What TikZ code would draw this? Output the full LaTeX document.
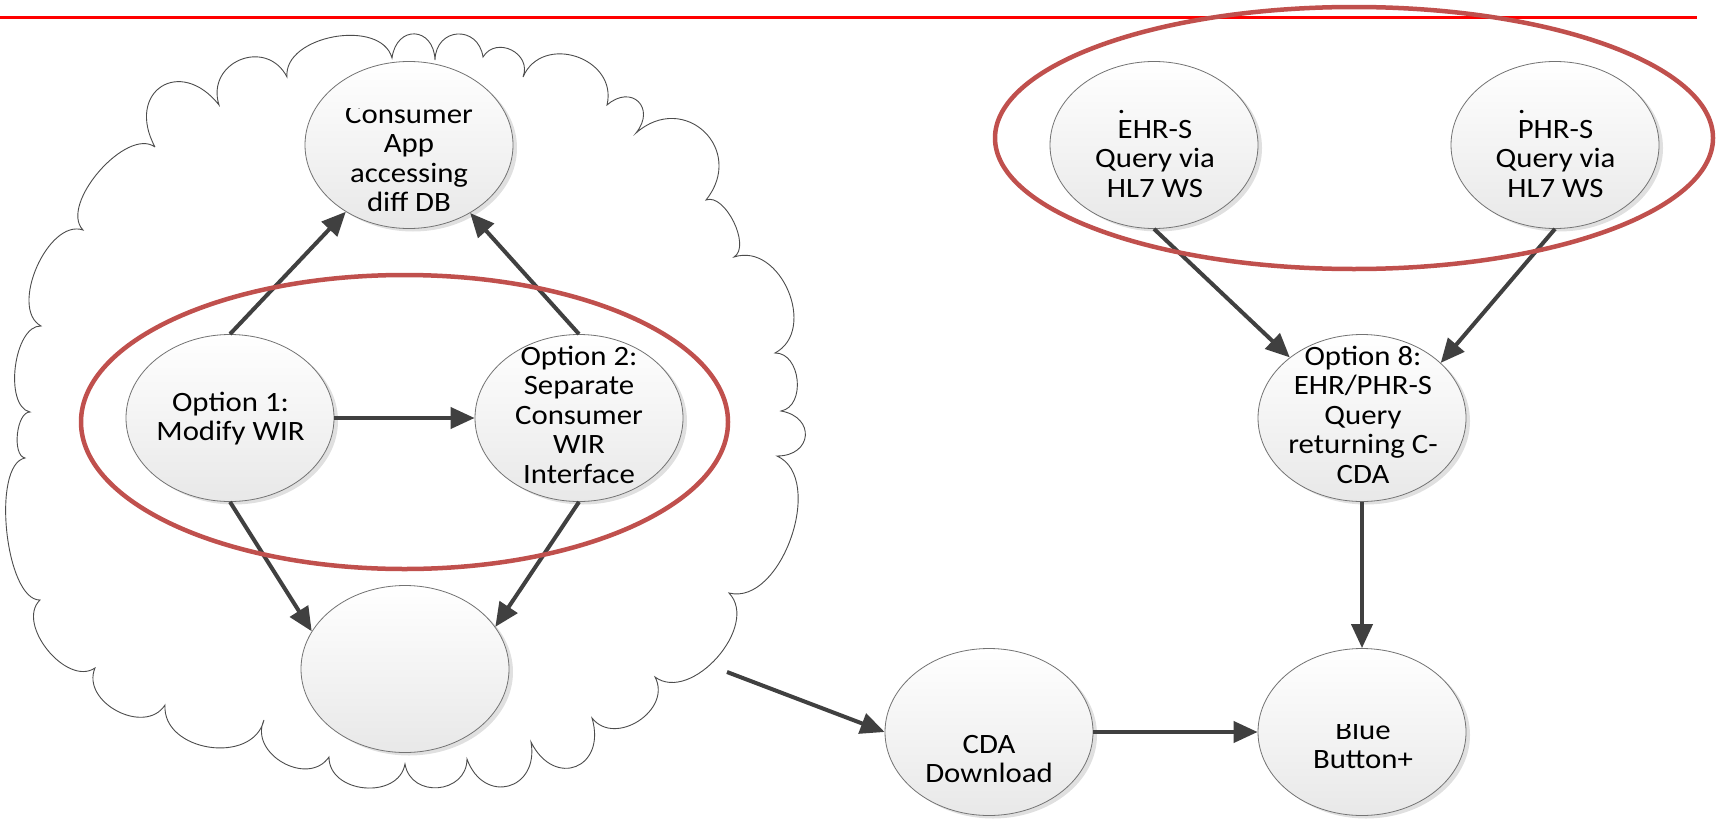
\documentclass[tikz,border=0pt]{standalone}
\usepackage{fontspec}
\setmainfont{Carlito}[FakeStretch=1.1]
\usetikzlibrary{arrows.meta,shapes.geometric,shadows}
\definecolor{ring}{HTML}{C0504D}
\definecolor{arrgray}{HTML}{404040}
\newcommand{\mlines}[1]{\begin{tabular}[t]{@{}c@{}}#1\end{tabular}}
\begin{document}
\begin{tikzpicture}[x=1pt,y=-1pt,
  font=\fontsize{28pt}{29.5pt}\selectfont,
  bub/.style={ellipse, draw=black!55, line width=0.8pt, minimum width=208pt,
    minimum height=167pt, inner sep=0pt, top color=white, bottom color=black!9,
    drop shadow={shadow xshift=4pt,shadow yshift=-3pt,opacity=0.12,fill=black}},
  txt/.style={anchor=base, inner sep=0pt, text=black},
  arr/.style={draw=arrgray, line width=4pt, -{Triangle[length=24pt,width=21pt]}},
  redring/.style={draw=ring, line width=4.5pt},
  cloudline/.style={draw=black!70, line width=0.9pt},
  bp/.style={bend left=85, looseness=#1}]
\fill[white] (0,0) rectangle (1718,819);
\useasboundingbox (0,0) rectangle (1718,819);

% top red rule
\draw[red, line width=3pt] (0,17) -- (1697,17);

% cloud
\draw[cloudline] (155,147) to[bp=2.1] (219,105) to[bp=1.57] (287,77) to[bp=1.0] (392,58)
  to[bp=2.0] (435,60) to[bp=1.75] (483,57) to[bp=1.45] (523,77) to[bp=1.4] (607,105)
  to[bp=2.05] (636,133) to[bp=1.7] (706,200) to[bp=0.82] (734,257) to[bp=1.2] (775,353)
  to[bp=1.13] (781,411) to[bp=2.0] (777,456) to[bp=0.95] (729,593) to[bp=1.03] (655,677)
  to[bp=1.27] (592,718) to[bp=2.05] (531,742) to[bp=1.9] (467,759) to[bp=1.45] (405,764)
  to[bp=1.23] (329,757) to[bp=1.27] (264,720) to[bp=1.2] (165,705) to[bp=1.2] (95,668)
  to[bp=1.0] (40,600) to[bp=0.62] (25,458) to[bp=0.75] (30,412) to[bp=0.8] (41,326)
  to[bp=0.9] (83,230) to[bp=0.82] (155,147);
\coordinate (cstart) at (727,672);

% bubbles
\node[bub] (cons) at (409,145) {};
\node[bub] (o1) at (230,418) {};
\node[bub] (o2) at (579,418) {};
\node[bub] (bot) at (405,669) {};
\node[bub] (ehr) at (1154,145) {};
\node[bub] (phr) at (1555,145) {};
\node[bub] (o8) at (1362,418) {};
\node[bub] (cda) at (989,732) {};
\node[bub] (blue) at (1362,732) {};

% texts
\begin{scope}
  \clip (290,108) rectangle (530,240);
  \node[txt] (tcons) at (409,123) {\mlines{Consumer\\App\\accessing\\diff DB}};
\end{scope}
\node[txt] (to1) at (230.5,411) {\mlines{Option 1:\\Modify WIR}};
\node[txt] (to2) at (579,365) {\mlines{Option 2:\\Separate\\Consumer\\WIR\\Interface}};
\node[txt] (to8) at (1363,365) {\mlines{Option 8:\\EHR/PHR-S\\Query\\returning C-\\CDA}};
\node[txt] (tehr) at (1155,108.5) {\mlines{\rlap{\raisebox{-4.5pt}{.}}\hphantom{EHR-S}\\EHR-S\\Query via\\HL7 WS}};
\node[txt] (tphr) at (1555.5,108.5) {\mlines{\rlap{\raisebox{-4.5pt}{.}}\hphantom{PHR-S}\\PHR-S\\Query via\\HL7 WS}};
\node[txt] (tcda) at (989,753) {\mlines{CDA\\Download}};
\begin{scope}
  \clip (1240,724) rectangle (1490,819);
  \node[txt] (tblue) at (1363,739) {\mlines{Blue\\Button+}};
\end{scope}

% connectors
\draw[arr] (o1.north) -- (cons);
\draw[arr] (o2.north) -- (cons);
\draw[arr] (o1) -- (o2);
\draw[arr] (o1.south) -- (bot.158);
\draw[arr] (o2.south) -- (bot.25);
\draw[arr] (cstart) -- (cda.west);
\draw[arr] (cda) -- (blue);
\draw[arr] (o8) -- (blue);
\draw[arr] (ehr.south) -- (o8.140);
\draw[arr] (phr.south) -- (o8.35);

% red rings
\draw[redring] (404.5,422) ellipse [x radius=323.5, y radius=147];
\draw[redring] (1354,138) ellipse [x radius=359, y radius=131];
\end{tikzpicture}
\end{document}
